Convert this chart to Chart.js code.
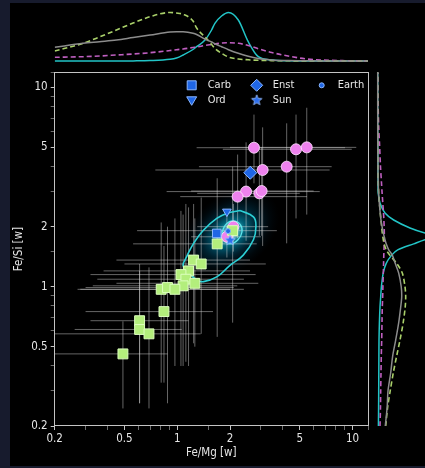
<!DOCTYPE html>
<html lang="en">
<head>
<meta charset="utf-8">
<title>Fe/Si vs Fe/Mg</title>
<script src="https://cdn.jsdelivr.net/npm/chart.js@4.4.1/dist/chart.umd.min.js"></script>
<style>
  html, body { margin: 0; padding: 0; background: #171b2d; }
  #wrap { position: relative; width: 425px; height: 468px; overflow: hidden; }
  #panel { position: absolute; left: 10px; top: 3px; width: 415px; height: 463px; background: #000; }
  #wrap canvas { position: absolute; left: 0; top: 0; }
</style>
</head>
<body>
<div id="wrap">
  <div id="panel"></div>
  <canvas id="main" width="425" height="468"></canvas>
  <canvas id="top" width="425" height="468"></canvas>
  <canvas id="side" width="425" height="468"></canvas>
</div>

<script>
// ---- data ----

// green squares: value and 1-sigma range
var greenFeMg   = [2.07, 1.69, 1.24, 1.37, 1.16, 1.05, 1.12, 1.08, 1.26, 0.81, 0.88, 0.97, 0.84, 0.61, 0.61, 0.69, 0.49];
var greenFeSi   = [1.91, 1.64, 1.36, 1.30, 1.20, 1.15, 1.09, 1.01, 1.04, 0.97, 0.99, 0.97, 0.75, 0.675, 0.61, 0.58, 0.46];
var greenFeMgLo = [0.59, 0.56, 0.45, 0.50, 0.38, 0.32, 0.35, 0.33, 0.45, 0.27, 0.30, 0.28, 0.30, 0.32, 0.26, 0.20, 0.15];
var greenFeMgHi = [3.70, 2.84, 2.60, 3.20, 2.60, 2.80, 2.40, 2.20, 2.90, 2.00, 2.10, 2.40, 1.60, 1.16, 1.06, 1.36, 0.88];
var greenFeSiLo = [0.66, 0.56, 0.52, 0.58, 0.40, 0.40, 0.42, 0.40, 0.50, 0.33, 0.26, 0.40, 0.33, 0.26, 0.26, 0.245, 0.245];
var greenFeSiHi = [4.00, 3.50, 2.60, 2.80, 2.50, 2.40, 2.60, 2.30, 2.20, 2.10, 2.00, 2.20, 1.60, 1.30, 1.20, 1.25, 0.67];

// pink circles
var pinkFeMg   = [2.74, 4.76, 5.48, 3.07, 4.21, 2.47, 2.21, 2.94, 3.03, 2.09, 1.92];
var pinkFeSi   = [4.98, 4.89, 5.00, 3.85, 4.00, 3.00, 2.83, 2.94, 3.02, 2.00, 1.78];
var pinkFeMgLo = [1.29, 1.82, 2.00, 0.75, 1.33, 0.87, 1.04, 1.30, 1.20, 1.30, 1.20];
var pinkFeMgHi = [9.06, 9.90, 10.5, 7.40, 7.60, 6.50, 5.50, 5.00, 6.00, 3.30, 3.00];
var pinkFeSiLo = [3.30, 2.20, 2.30, 1.60, 1.65, 1.70, 1.75, 1.80, 1.80, 1.50, 1.40];
var pinkFeSiHi = [7.30, 7.30, 7.90, 6.30, 6.60, 5.30, 4.60, 4.80, 5.00, 2.60, 2.30];

// reference bodies
var refNames = ['Carb', 'Enst', 'Earth', 'Ord', 'Sun'];
var refFeMg  = [1.68, 2.61, 1.95, 1.92, 2.00];
var refFeSi  = [1.85, 3.73, 1.90, 2.38, 1.72];

// density contours
var outerFeMg = [2.28, 2.72, 2.81, 2.72, 2.38, 2.00, 1.68, 1.41, 1.29, 1.13, 1.08, 1.13, 1.24, 1.41, 1.68, 1.92];
var outerFeSi = [2.41, 2.24, 2.00, 1.72, 1.44, 1.28, 1.12, 1.06, 1.08, 1.21, 1.28, 1.41, 1.65, 1.92, 2.20, 2.33];
var innerFeMg = [1.80, 1.90, 2.08, 2.28, 2.34, 2.22, 2.00, 1.85];
var innerFeSi = [1.88, 2.06, 2.14, 2.06, 1.88, 1.72, 1.64, 1.72];
var peakFeMg = 2.0, peakFeSi = 1.86;

// marginal densities along Fe/Mg (top)
var topGrid  = [0.2, 0.29, 0.36, 0.45, 0.56, 0.70, 0.91, 0.99, 1.08, 1.23, 1.29, 1.44, 1.57, 1.64, 1.79, 1.96, 2.23, 2.54, 2.9, 3.46, 4.29, 5.36, 6.67, 9.06, 12.25];
var topGreen = [10, 17.7, 24, 31, 38, 44.3, 48.5, 48, 46.7, 40, 33, 24, 16.5, 12.5, 7.7, 4, 2, 1.2, 0.7, 0.4, 0.2, 0.1, 0.05, 0, 0];
var topGray  = [13.7, 17.7, 19.3, 21, 23.5, 26, 29, 29.3, 29.2, 27.7, 26.5, 22, 19, 17.3, 14.3, 11.3, 7.7, 4.8, 2.4, 1, 0.4, 0.15, 0.05, 0, 0];
var topPink  = [3.7, 4.3, 5, 6, 7, 8.3, 10.5, 11.3, 12, 13.5, 14, 15.5, 16.5, 17, 18, 18.3, 17.7, 15.5, 12.3, 8.5, 5, 2.2, 1, 0.3, 0];
var topCyan  = [0, 0, 0, 0, 0.1, 0.4, 1.7, 3, 6, 11.5, 14.3, 21, 31, 37.7, 45, 48.5, 41, 19.3, 4.3, 1, 0.2, 0, 0, 0, 0];

// marginal densities along Fe/Si (right)
var sideGrid  = [0.2, 0.25, 0.30, 0.37, 0.45, 0.54, 0.66, 0.79, 0.89, 1.0, 1.17, 1.31, 1.44, 1.53, 1.64, 1.72, 1.80, 1.86, 1.97, 2.16, 2.34, 2.63, 2.95, 3.31, 4.0, 5.24, 6.35, 8.65, 11.9];
var sideGreen = [8, 10, 12.5, 15.6, 19, 22.3, 25.5, 27.5, 28, 27.3, 24.6, 19, 12, 8.5, 6.5, 5.6, 5, 4.6, 4, 3.3, 2.6, 1.7, 1, 0.6, 0.3, 0.1, 0.05, 0, 0];
var sideGray  = [7.6, 9.5, 10.3, 13, 15, 18, 21, 23, 24, 23.5, 21, 17.5, 14.6, 11, 8.5, 7.3, 6.3, 5.6, 4.6, 3.3, 2.5, 1.6, 0.9, 0.5, 0.25, 0.1, 0.05, 0, 0];
var sidePink  = [2.3, 2.8, 3, 3.3, 3.6, 4, 4.3, 4.6, 5, 5.2, 5.6, 5.9, 6.1, 6.3, 6.4, 6.5, 6.6, 6.6, 6.5, 6.2, 5.8, 5.1, 4.4, 3.8, 2.8, 1.8, 1, 0.3, 0.1];
var sideCyan  = [0.7, 0.9, 1, 1.1, 1.2, 1.3, 1.7, 2.3, 3, 3.7, 5.5, 8.5, 14, 20, 36, 47.3, 62, 47.3, 32.3, 16, 7.3, 2.3, 0.5, 0.3, 0.2, 0.1, 0, 0, 0];

var tickLabels = [0.2, 0.5, 1, 2, 5, 10];

// ---- helpers ----
function pts(xs, ys) {
    return xs.map(function (x, i) { return {x: x, y: ys[i]}; });
}
function closed(xs, ys) {
    var p = pts(xs, ys);
    p.push(p[0]);
    return p;
}
function isLabelled(v) {
    return tickLabels.some(function (t) { return Math.abs(Math.log10(t) - Math.log10(v)) < 1e-6; });
}

var FAMILY = '"DejaVu Sans Condensed", "DejaVu Sans", sans-serif';
var FONT = {family: FAMILY, size: 11.5};
var TXT = '#e6e6e6';
var FRAME = '#c4c4c4';

// little star marker for the Sun
var starImg = document.createElement('canvas');
starImg.width = 14; starImg.height = 14;
(function () {
    var c = starImg.getContext('2d');
    c.beginPath();
    for (var i = 0; i < 10; i++) {
        var r = i % 2 ? 2.4 : 5.5;
        var a = -Math.PI / 2 + i * Math.PI / 5;
        c.lineTo(7 + r * Math.cos(a), 7.5 + r * Math.sin(a));
    }
    c.closePath();
    c.fillStyle = '#2b6ef0';
    c.fill();
    c.strokeStyle = '#9cc0ff';
    c.lineWidth = 0.8;
    c.stroke();
})();

var refStyles = {
    Carb:  {pointStyle: 'rect', radius: 6, rotation: 0},
    Enst:  {pointStyle: 'rectRot', radius: 6.5, rotation: 0},
    Earth: {pointStyle: 'circle', radius: 2.5, rotation: 0},
    Ord:   {pointStyle: 'triangle', radius: 5, rotation: 180},
    Sun:   {pointStyle: starImg, radius: 6, rotation: 0}
};

function logAxis(min, max, title, tickPad, titlePad) {
    return {
        type: 'logarithmic',
        min: min, max: max,
        grid: {display: true, drawOnChartArea: false, drawTicks: true, tickLength: 4,
               tickColor: function (c) { return isLabelled(c.tick.value) ? FRAME : 'rgba(196,196,196,0.55)'; }},
        border: {display: false},
        ticks: {
            autoSkip: false, maxRotation: 0, color: TXT, font: FONT, padding: tickPad,
            callback: function (v) {
                var hit = tickLabels.find(function (t) { return Math.abs(Math.log10(t) - Math.log10(v)) < 1e-6; });
                return hit === undefined ? '' : String(hit);
            }
        },
        title: {display: true, text: title, color: TXT, font: FONT, padding: titlePad}
    };
}

// ---- plugins for the main panel ----
var glowPlugin = {
    id: 'glow',
    beforeDatasetsDraw: function (chart) {
        var ctx = chart.ctx, x = chart.scales.x, y = chart.scales.y;
        var cx = x.getPixelForValue(peakFeMg), cy = y.getPixelForValue(peakFeSi);
        ctx.save();
        ctx.translate(cx, cy);
        ctx.rotate(-0.65);
        ctx.scale(1.25, 0.85);
        var g = ctx.createRadialGradient(0, 0, 0, 0, 0, 44);
        g.addColorStop(0, 'rgba(230,255,255,0.95)');
        g.addColorStop(0.1, 'rgba(140,240,252,0.85)');
        g.addColorStop(0.3, 'rgba(0,180,220,0.55)');
        g.addColorStop(0.55, 'rgba(0,120,170,0.28)');
        g.addColorStop(0.8, 'rgba(0,70,110,0.1)');
        g.addColorStop(1, 'rgba(0,40,70,0)');
        ctx.fillStyle = g;
        ctx.beginPath();
        ctx.arc(0, 0, 44, 0, Math.PI * 2);
        ctx.fill();
        ctx.restore();
    }
};

var errorBarPlugin = {
    id: 'errbars',
    beforeDatasetsDraw: function (chart) {
        var ctx = chart.ctx, x = chart.scales.x, y = chart.scales.y, a = chart.chartArea;
        ctx.save();
        ctx.beginPath();
        ctx.rect(a.left, a.top, a.right - a.left, a.bottom - a.top);
        ctx.clip();
        ctx.strokeStyle = 'rgba(225,225,225,0.45)';
        ctx.lineWidth = 1;
        function draw(fx, fy, xl, xh, yl, yh) {
            for (var i = 0; i < fx.length; i++) {
                var px = x.getPixelForValue(fx[i]), py = y.getPixelForValue(fy[i]);
                ctx.beginPath();
                ctx.moveTo(x.getPixelForValue(xl[i]), py);
                ctx.lineTo(x.getPixelForValue(xh[i]), py);
                ctx.moveTo(px, y.getPixelForValue(yl[i]));
                ctx.lineTo(px, y.getPixelForValue(yh[i]));
                ctx.stroke();
            }
        }
        draw(greenFeMg, greenFeSi, greenFeMgLo, greenFeMgHi, greenFeSiLo, greenFeSiHi);
        draw(pinkFeMg, pinkFeSi, pinkFeMgLo, pinkFeMgHi, pinkFeSiLo, pinkFeSiHi);
        ctx.restore();
    }
};

function legendMarker(ctx, name, x, y) {
    ctx.save();
    ctx.fillStyle = '#1f66e5';
    ctx.strokeStyle = '#8ab6ff';
    ctx.lineWidth = 1;
    ctx.beginPath();
    if (name === 'Carb') {
        ctx.rect(x - 4.5, y - 4.5, 9, 9);
    } else if (name === 'Enst') {
        ctx.moveTo(x, y - 6); ctx.lineTo(x + 6, y); ctx.lineTo(x, y + 6); ctx.lineTo(x - 6, y); ctx.closePath();
    } else if (name === 'Earth') {
        ctx.arc(x, y, 2.5, 0, Math.PI * 2);
    } else if (name === 'Ord') {
        ctx.moveTo(x - 5, y - 3.5); ctx.lineTo(x + 5, y - 3.5); ctx.lineTo(x, y + 5); ctx.closePath();
    } else {
        ctx.drawImage(starImg, x - 7, y - 7.5);
        ctx.restore();
        return;
    }
    ctx.fill();
    ctx.stroke();
    ctx.restore();
}

var framePlugin = {
    id: 'frame',
    afterDraw: function (chart) {
        var ctx = chart.ctx, a = chart.chartArea;
        ctx.save();
        ctx.strokeStyle = FRAME;
        ctx.lineWidth = 1;
        ctx.strokeRect(Math.round(a.left) - 0.5, Math.round(a.top) + 0.5,
                       Math.round(a.right - a.left) + 1, Math.round(a.bottom - a.top) - 1);

        // legend, three columns filled top to bottom
        var cols = [[0, 3], [1, 4], [2]];
        ctx.font = '11px ' + FAMILY;
        ctx.textBaseline = 'middle';
        cols.forEach(function (col, c) {
            col.forEach(function (k, r) {
                var mx = a.left + 137 + c * 65, my = a.top + 13 + r * 15;
                legendMarker(ctx, refNames[k], mx, my);
                ctx.fillStyle = TXT;
                ctx.fillText(refNames[k], mx + 16, my);
            });
        });
        ctx.restore();
    }
};

// ---- main scatter panel ----
var refSets = refNames.map(function (n, i) {
    var st = refStyles[n];
    return {
        label: n,
        data: [{x: refFeMg[i], y: refFeSi[i]}],
        pointStyle: st.pointStyle,
        pointRadius: st.radius,
        rotation: st.rotation,
        backgroundColor: '#1f66e5',
        borderColor: '#8ab6ff',
        borderWidth: 1,
        order: 1
    };
});

var xAxis = logAxis(0.2, 12.25, 'Fe/Mg [w]', 2, {top: 0, bottom: 8});
xAxis.afterFit = function (s) { s.height = 42; };
var yAxis = logAxis(0.2, 11.9, 'Fe/Si [w]', 3, {top: 2, bottom: 0});
yAxis.afterFit = function (s) { s.width = 44.7; };

new Chart(document.getElementById('main'), {
    type: 'scatter',
    data: {
        datasets: [
            {label: 'inner', data: closed(innerFeMg, innerFeSi), showLine: true, tension: 0.45,
             pointRadius: 0, borderColor: '#5fe8ee', borderWidth: 1.3, order: 6},
            {label: 'outer', data: closed(outerFeMg, outerFeSi), showLine: true, tension: 0.45,
             pointRadius: 0, borderColor: '#2cd0d6', borderWidth: 1.6, order: 6},
            {label: 'pink', data: pts(pinkFeMg, pinkFeSi), pointRadius: 5.5,
             backgroundColor: '#ee82ee', borderColor: 'rgba(255,225,255,0.85)', borderWidth: 1, order: 4},
            {label: 'green', data: pts(greenFeMg, greenFeSi), pointStyle: 'rect', pointRadius: 7,
             backgroundColor: '#b3ee7c', borderColor: '#dcffbd', borderWidth: 1, order: 3}
        ].concat(refSets)
    },
    options: {
        responsive: false,
        animation: false,
        layout: {padding: {left: 10, right: 57, top: 72.3, bottom: 0}},
        plugins: {legend: {display: false}, tooltip: {enabled: false}},
        scales: {x: xAxis, y: yAxis}
    },
    plugins: [glowPlugin, errorBarPlugin, framePlugin]
});

// ---- marginal densities ----
var GREEN = '#a9d06a', GRAY = '#8c8c8c', PINK = '#bf5fc0', CYAN = '#22c4c6';

function curve(data, color, dashed) {
    return {
        data: data, showLine: true, pointRadius: 0, borderColor: color,
        borderWidth: dashed ? 1.6 : 1.5, borderDash: dashed ? [5, 3] : []
    };
}

new Chart(document.getElementById('top'), {
    type: 'scatter',
    data: {
        datasets: [
            curve(pts(topGrid, topGray), GRAY, false),
            curve(pts(topGrid, topGreen), GREEN, true),
            curve(pts(topGrid, topPink), PINK, true),
            curve(pts(topGrid, topCyan), CYAN, false)
        ].map(function (d) { d.cubicInterpolationMode = 'monotone'; return d; })
    },
    options: {
        responsive: false,
        animation: false,
        layout: {padding: {left: 54.7, right: 57, top: 10, bottom: 406}},
        plugins: {legend: {display: false}, tooltip: {enabled: false}},
        scales: {
            x: {type: 'logarithmic', min: 0.2, max: 12.25, display: false},
            y: {type: 'linear', min: -1, max: 51, display: false}
        }
    }
});

new Chart(document.getElementById('side'), {
    type: 'scatter',
    data: {
        datasets: [
            curve(pts(sideGray, sideGrid), GRAY, false),
            curve(pts(sideGreen, sideGrid), GREEN, true),
            curve(pts(sidePink, sideGrid), PINK, true),
            curve(pts(sideCyan, sideGrid), CYAN, false)
        ].map(function (d) { d.tension = 0.3; return d; })
    },
    options: {
        responsive: false,
        animation: false,
        layout: {padding: {left: 376.7, right: 0, top: 72.3, bottom: 42}},
        plugins: {legend: {display: false}, tooltip: {enabled: false}},
        scales: {
            x: {type: 'linear', min: -1, max: 47.3, display: false},
            y: {type: 'logarithmic', min: 0.2, max: 11.9, display: false}
        }
    }
});
</script>
</body>
</html>
